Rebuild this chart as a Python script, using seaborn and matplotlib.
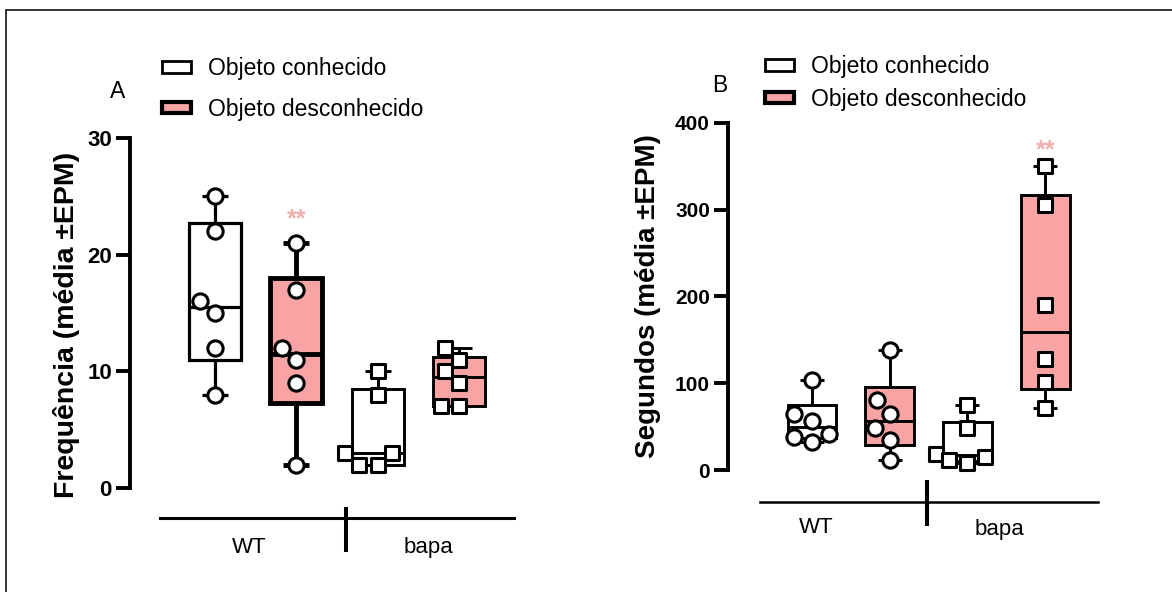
import numpy as np
import pandas as pd
import matplotlib
matplotlib.use("Agg")
import matplotlib.pyplot as plt
import seaborn as sns
from matplotlib.patches import Patch
from matplotlib.lines import Line2D
from matplotlib.transforms import blended_transform_factory

# ---------------- data ----------------
conditions = ["WT_conhecido", "WT_desconhecido", "bapa_conhecido", "bapa_desconhecido"]
group_labels = ["WT", "bapa"]
legend_labels = ["Objeto conhecido", "Objeto desconhecido"]

# Panel A - Frequência
freq_wt_conhecido = [25, 22, 16, 15, 12, 8]
freq_wt_desconhecido = [21, 17, 12, 11, 9, 2]
freq_bapa_conhecido = [10, 8, 3, 3, 2, 2]
freq_bapa_desconhecido = [12, 11, 10, 9, 7, 7]

# Panel B - Segundos
seg_wt_conhecido = [104, 65, 57, 42, 38, 32]
seg_wt_desconhecido = [138, 81, 65, 48, 34, 12]
seg_bapa_conhecido = [75, 48, 19, 15, 11, 8]
seg_bapa_desconhecido = [350, 305, 190, 128, 101, 71]

yticks_a = [0, 10, 20, 30]
yticks_b = [0, 100, 200, 300, 400]
ylabel_a = "Frequência (média ±EPM)"
ylabel_b = "Segundos (média ±EPM)"
signif = "**"

# ---------------- style ----------------
sns.set_style("ticks")
plt.rcParams["font.family"] = ["Liberation Sans", "DejaVu Sans"]
for key in ["text.color", "axes.labelcolor", "xtick.color", "ytick.color", "axes.edgecolor"]:
    plt.rcParams[key] = "black"

PINK = "#F8A4A4"
STAR = "#F2ADAD"
W, H = 1172, 592

fig = plt.figure(figsize=(W / 100, H / 100), dpi=100)


def fpos(x, y):
    return x / W, 1 - y / H


def box_stats(v):
    v = np.asarray(v, dtype=float)
    q1, med, q3 = np.percentile(v, [25, 50, 75], method="weibull")
    return dict(med=med, q1=q1, q3=q3, whislo=v.min(), whishi=v.max(), fliers=[])


def panel(rect, data_lists, ylim, yticks, ylabel, xlim, box_lws, box_w, cap_w,
          tick_fs, label_fs, label_coords, spine_out, bottom_bounds, bottom_lw,
          sep_x, sep_y, star_idx, star_y):
    ax = fig.add_axes(rect)
    df = pd.DataFrame({
        "cond": np.repeat(conditions, [len(d) for d in data_lists]),
        "value": np.concatenate([np.asarray(d, float) for d in data_lists]),
    })
    stats = [box_stats(d) for d in data_lists]
    bp = ax.bxp(stats, positions=range(len(conditions)), widths=box_w,
                capwidths=cap_w, patch_artist=True, showfliers=False,
                manage_ticks=False)
    fills = ["white", PINK, "white", PINK]
    for i, patch in enumerate(bp["boxes"]):
        patch.set_facecolor(fills[i])
        patch.set_edgecolor("black")
        patch.set_linewidth(box_lws[i])
        for art in bp["whiskers"][2 * i:2 * i + 2] + bp["caps"][2 * i:2 * i + 2]:
            art.set_color("black")
            art.set_linewidth(box_lws[i])
            art.set_solid_capstyle("butt")
        bp["medians"][i].set_color("black")
        bp["medians"][i].set_linewidth(box_lws[i])

    wt = df[df["cond"].str.startswith("WT")]
    bapa = df[df["cond"].str.startswith("bapa")]
    sns.swarmplot(data=wt, x="cond", y="value", order=conditions, marker="o",
                  size=11, color="white", edgecolor="black", linewidth=2.2,
                  ax=ax, zorder=4, clip_on=False, warn_thresh=1)
    sns.swarmplot(data=bapa, x="cond", y="value", order=conditions, marker="s",
                  size=10.5, color="white", edgecolor="black", linewidth=2.2,
                  ax=ax, zorder=4, clip_on=False, warn_thresh=1)

    ax.set_xlim(*xlim)
    ax.set_ylim(*ylim)
    ax.set_yticks(yticks)
    ax.set_xticks([])
    ax.set_xlabel("")
    ax.set_ylabel(ylabel, fontsize=label_fs, fontweight="bold")
    ax.yaxis.set_label_coords(*label_coords)
    ax.tick_params(axis="y", length=10, width=2.8, labelsize=tick_fs, pad=3,
                   color="black", labelcolor="black")
    for lab in ax.get_yticklabels():
        lab.set_fontweight("bold")
    sns.despine(ax=ax)
    ax.spines["left"].set_linewidth(2.8)
    ax.spines["bottom"].set_position(("outward", spine_out))
    ax.spines["bottom"].set_bounds(*bottom_bounds)
    ax.spines["bottom"].set_linewidth(bottom_lw)
    blend = blended_transform_factory(ax.transData, ax.transAxes)
    ax.add_line(Line2D([sep_x, sep_x], sep_y, transform=blend, clip_on=False,
                       color="black", lw=2.9, solid_capstyle="butt"))
    ax.text(star_idx, star_y, signif, ha="center", va="center", color=STAR,
            fontsize=18, fontweight="bold")
    return ax


# Panel A
axA = panel(
    rect=[130 / W, 1 - 488 / H, 386 / W, 350 / H],
    data_lists=[freq_wt_conhecido, freq_wt_desconhecido, freq_bapa_conhecido, freq_bapa_desconhecido],
    ylim=(0, 30), yticks=yticks_a, ylabel=ylabel_a,
    xlim=(-1.045, 3.7), box_lws=[2.3, 3.5, 2.1, 2.1], box_w=0.64, cap_w=0.32,
    tick_fs=16, label_fs=20.5, label_coords=(-0.13, 0.465), spine_out=21.6,
    bottom_bounds=(-0.68, 3.67), bottom_lw=2.2, sep_x=1.611,
    sep_y=[-0.054, -0.183], star_idx=1, star_y=23.0,
)

# Panel B
axB = panel(
    rect=[728 / W, 1 - 470 / H, 370 / W, 347.3 / H],
    data_lists=[seg_wt_conhecido, seg_wt_desconhecido, seg_bapa_conhecido, seg_bapa_desconhecido],
    ylim=(0, 400), yticks=yticks_b, ylabel=ylabel_b,
    xlim=(-1.081, 3.68), box_lws=[2.1, 2.1, 2.1, 2.1], box_w=0.63, cap_w=0.31,
    tick_fs=15, label_fs=20, label_coords=(-0.18, 0.5), spine_out=23,
    bottom_bounds=(-0.669, 3.68), bottom_lw=1.8, sep_x=1.48,
    sep_y=[-0.029, -0.161], star_idx=3, star_y=368,
)

# group labels
fig.text(*fpos(249, 553), group_labels[0], ha="center", va="baseline", fontsize=16)
fig.text(*fpos(428, 553), group_labels[1], ha="center", va="baseline", fontsize=16)
fig.text(*fpos(816, 533), group_labels[0], ha="center", va="baseline", fontsize=16)
fig.text(*fpos(999, 535), group_labels[1], ha="center", va="baseline", fontsize=16)

# panel letters
fig.text(*fpos(118, 92), "A", ha="center", va="center", fontsize=16.5)
fig.text(*fpos(720, 85), "B", ha="center", va="center", fontsize=16.5)

# legends
handles = [Patch(facecolor="white", edgecolor="black", linewidth=2.0),
           Patch(facecolor=PINK, edgecolor="black", linewidth=3.0)]
legA = fig.legend(handles, legend_labels, loc="upper left",
                  bbox_to_anchor=fpos(162, 57), frameon=False, fontsize=16.5,
                  handlelength=1.25, handleheight=0.4, handletextpad=0.75,
                  labelspacing=0.78, borderpad=0, borderaxespad=0)
legB = fig.legend(handles, legend_labels, loc="upper left",
                  bbox_to_anchor=fpos(765, 55), frameon=False, fontsize=16.5,
                  handlelength=1.25, handleheight=0.4, handletextpad=0.75,
                  labelspacing=0.42, borderpad=0, borderaxespad=0)

# outer frame (top and left edges)
fig.add_artist(Line2D([6 / W, 1], [1 - 10 / H, 1 - 10 / H], transform=fig.transFigure,
                      color="black", lw=1.1))
fig.add_artist(Line2D([6 / W, 6 / W], [0, 1 - 10 / H], transform=fig.transFigure,
                      color="black", lw=1.1))

fig.savefig("out.png", dpi=100)
